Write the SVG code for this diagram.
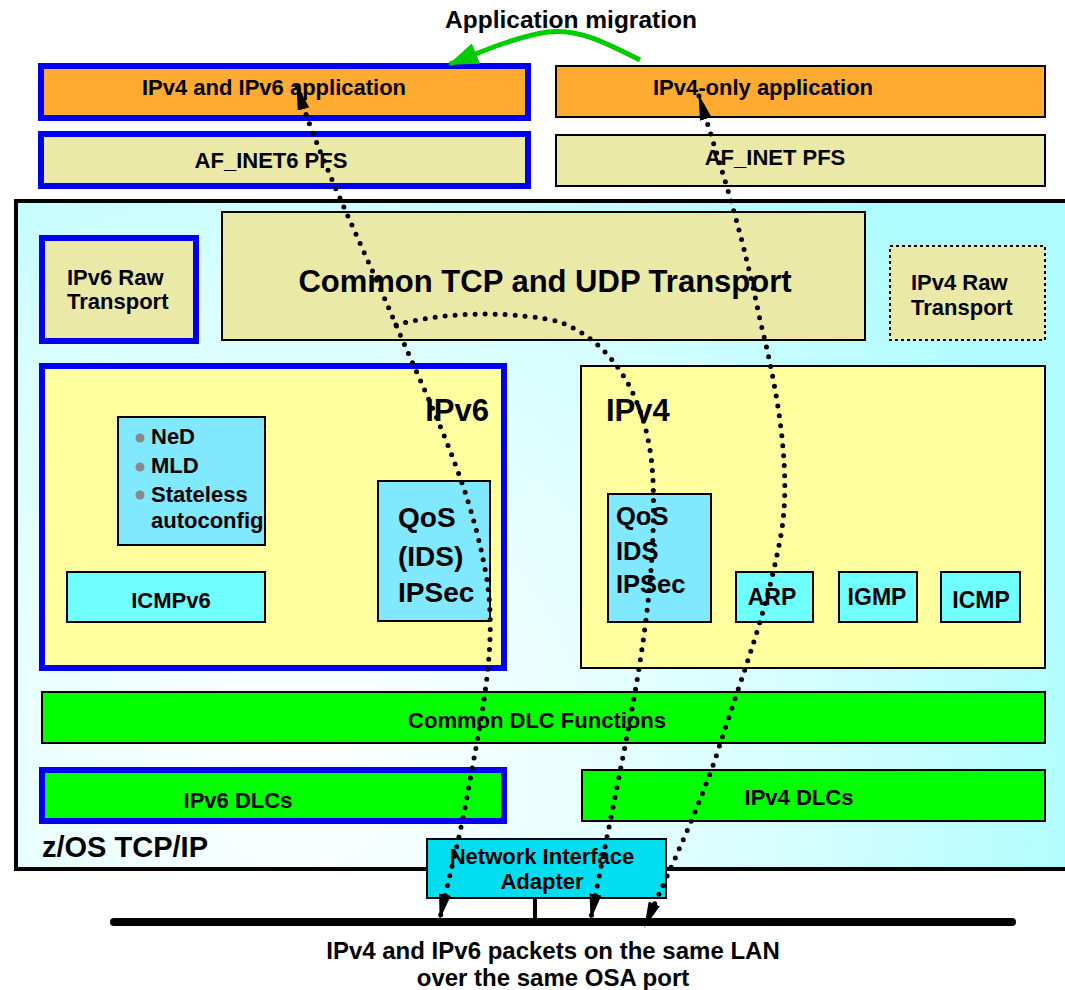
<svg xmlns="http://www.w3.org/2000/svg" width="1065" height="990" viewBox="0 0 1065 990">
<defs>
<radialGradient id="bg" cx="300" cy="760" r="800" gradientUnits="userSpaceOnUse">
<stop offset="0" stop-color="#FFFFFF"/>
<stop offset="0.6" stop-color="#D8FEFF"/>
<stop offset="1" stop-color="#AEFCFF"/>
</radialGradient>
<marker id="ah" viewBox="0 0 26 12" refX="24" refY="6" markerWidth="26" markerHeight="12" markerUnits="userSpaceOnUse" orient="auto-start-reverse">
<path d="M0,0 L26,6 L0,12 Z" fill="#000"/>
</marker>
<marker id="gh" viewBox="0 0 30 22" refX="28" refY="11" markerWidth="30" markerHeight="22" markerUnits="userSpaceOnUse" orient="auto">
<path d="M0,0 L30,11 L0,22 Z" fill="#00CC00"/>
</marker>
</defs>
<style>
text{font-family:"Liberation Sans",Arial,sans-serif;font-weight:bold;fill:#000}
.c{text-anchor:middle}
.blue{stroke:#0000EE;stroke-width:6}
.blk{stroke:#000;stroke-width:2}
.orange{fill:#FFAA30}
.khaki{fill:#EBE9A8}
.yel{fill:#FFFFA0}
.cyan{fill:#80E8FF}
.cy2{fill:#70FFFF}
.grn{fill:#00FF00}
.dot{fill:none;stroke:#000;stroke-width:5;stroke-linecap:round;stroke-dasharray:0 10}
</style>
<rect x="0" y="0" width="1065" height="990" fill="#FFFFFF"/>

<g id="migration">
<text x="571" y="28" class="c" font-size="24.5">Application migration</text>
</g>

<g id="app46">
<rect x="41" y="66" width="487" height="52" class="orange blue"/>
<text x="274" y="95" class="c" font-size="22">IPv4 and IPv6 application</text>
</g>
<g id="afinet6">
<rect x="41" y="134" width="487" height="52" class="khaki blue"/>
<text x="271" y="168" class="c" font-size="22">AF_INET6 PFS</text>
</g>
<g id="app4">
<rect x="556" y="66" width="489" height="51" class="orange blk"/>
<text x="763" y="95" class="c" font-size="22">IPv4-only application</text>
</g>
<g id="afinet">
<rect x="556" y="135" width="489" height="51" class="khaki blk"/>
<text x="775" y="165" class="c" font-size="22">AF_INET PFS</text>
</g>

<g id="zos">
<rect x="16" y="201" width="1070" height="668" fill="url(#bg)" stroke="#000" stroke-width="4"/>
<text x="42" y="857" font-size="29">z/OS TCP/IP</text>
</g>

<g id="tcpudp">
<rect x="222" y="212" width="643" height="128" class="khaki blk"/>
<text x="545" y="292" class="c" font-size="31">Common TCP and UDP Transport</text>
</g>
<g id="ipv6raw">
<rect x="42" y="238" width="154" height="103" class="khaki blue"/>
<text x="67" y="285" font-size="22">IPv6 Raw</text>
<text x="67" y="309" font-size="22">Transport</text>
</g>
<g id="ipv4raw">
<rect x="890" y="246" width="155" height="94" class="khaki" stroke="#000" stroke-width="2" stroke-dasharray="3 3"/>
<text x="911" y="290" font-size="22">IPv4 Raw</text>
<text x="911" y="315" font-size="22">Transport</text>
</g>

<g id="ipv6">
<rect x="42" y="366" width="462" height="302" class="yel blue"/>
<text x="489" y="421" font-size="31" text-anchor="end">IPv6</text>
</g>
<g id="ned">
<rect x="118" y="417" width="147" height="128" class="cyan blk"/>
<circle cx="140" cy="438" r="4.5" fill="#888"/>
<circle cx="140" cy="467" r="4.5" fill="#888"/>
<circle cx="140" cy="495" r="4.5" fill="#888"/>
<text x="151" y="444" font-size="22">NeD</text>
<text x="151" y="473" font-size="22">MLD</text>
<text x="151" y="502" font-size="22">Stateless</text>
<text x="151" y="528" font-size="22">autoconfig</text>
</g>
<g id="icmpv6">
<rect x="67" y="572" width="198" height="50" class="cy2 blk"/>
<text x="171" y="608" class="c" font-size="22">ICMPv6</text>
</g>
<g id="qos6">
<rect x="378" y="481" width="112" height="140" class="cyan blk"/>
<text x="398" y="527" font-size="28">QoS</text>
<text x="398" y="566" font-size="28">(IDS)</text>
<text x="398" y="602" font-size="28">IPSec</text>
</g>

<g id="ipv4">
<rect x="581" y="366" width="464" height="302" class="yel blk"/>
<text x="606" y="421" font-size="31">IPv4</text>
</g>
<g id="qos4">
<rect x="608" y="494" width="103" height="128" class="cyan blk"/>
<text x="616" y="525" font-size="25.5">QoS</text>
<text x="616" y="560" font-size="25.5">IDS</text>
<text x="616" y="593" font-size="25.5">IPSec</text>
</g>
<g id="arp">
<rect x="736" y="572" width="77" height="50" class="cy2 blk"/>
<text x="772" y="605" class="c" font-size="23">ARP</text>
</g>
<g id="igmp">
<rect x="839" y="572" width="78" height="50" class="cy2 blk"/>
<text x="877" y="605" class="c" font-size="23">IGMP</text>
</g>
<g id="icmp">
<rect x="941" y="572" width="79" height="50" class="cy2 blk"/>
<text x="981" y="608" class="c" font-size="23">ICMP</text>
</g>

<g id="dlc">
<rect x="42" y="692" width="1003" height="51" class="grn blk"/>
<text x="537" y="728" class="c" font-size="22">Common DLC Functions</text>
</g>
<g id="dlc6">
<rect x="42" y="770" width="462" height="51" class="grn blue"/>
<text x="238" y="808" class="c" font-size="22">IPv6 DLCs</text>
</g>
<g id="dlc4">
<rect x="582" y="770" width="463" height="51" class="grn blk"/>
<text x="799" y="805" class="c" font-size="22">IPv4 DLCs</text>
</g>

<g id="lan">
<line x1="535" y1="898" x2="535" y2="922" stroke="#000" stroke-width="4"/>
<line x1="114" y1="922" x2="1012" y2="922" stroke="#000" stroke-width="8" stroke-linecap="round"/>
<text x="553" y="959" class="c" font-size="24">IPv4 and IPv6 packets on the same LAN</text>
<text x="553" y="986" class="c" font-size="24">over the same OSA port</text>
</g>

<g id="nia">
<rect x="427" y="839" width="239" height="59" fill="#00DDEE" stroke="#000" stroke-width="2"/>
<text x="542" y="864" class="c" font-size="22">Network Interface</text>
<text x="542" y="889" class="c" font-size="22">Adapter</text>
</g>

<g id="connectors">
<path d="M640,60 C610,45 580,28 548,32 C520,36 490,48 450,64" fill="none" stroke="#00CC00" stroke-width="5" marker-end="url(#gh)"/>
<path class="dot" d="M297,86 C315,150 360,240 396,325 C430,405 470,480 487,580 C496,640 485,700 470,780 C460,840 448,880 440,918" marker-start="url(#ah)" marker-end="url(#ah)"/>
<path class="dot" d="M396,325 C450,310 520,312 560,322 C620,345 650,410 653,480 C656,560 645,640 630,720 C615,800 600,870 591,918" marker-end="url(#ah)"/>
<path class="dot" d="M699,96 C715,150 740,220 760,320 C780,400 792,480 780,540 C765,620 740,680 715,760 C690,830 660,890 645,926" marker-start="url(#ah)" marker-end="url(#ah)"/>
</g>
</svg>
